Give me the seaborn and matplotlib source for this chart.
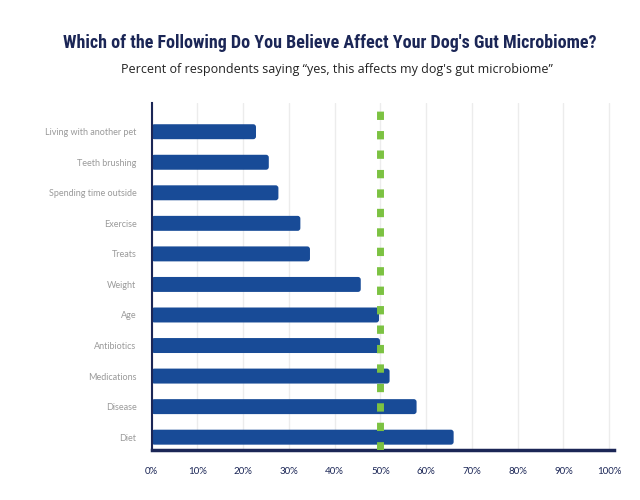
import numpy as np
import pandas as pd
import matplotlib
matplotlib.use("Agg")
import matplotlib.pyplot as plt
from matplotlib.patches import FancyBboxPatch
import seaborn as sns

# data (labels are blurred in the source, best guess)
factors = ["Living with another pet", "Teeth brushing", "Spending time outside",
           "Exercise", "Treats", "Weight", "Age", "Antibiotics",
           "Medications", "Disease", "Diet"]
pct_yes = [22.8, 25.6, 27.7, 32.5, 34.6, 45.7, 49.7, 49.9, 52.0, 57.9, 66.0]
x_ticks = [0, 10, 20, 30, 40, 50, 60, 70, 80, 90, 100]
x_tick_labels = [f"{t}%" for t in x_ticks]
reference_line = 50

df = pd.DataFrame({"factor": factors, "pct": pct_yes})

sns.set_style("white")
plt.rcParams["font.family"] = ["Lato", "DejaVu Sans"]

navy = "#1b2656"
bar_blue = "#184b97"
green = "#7cc242"

fig = plt.figure(figsize=(6.4, 5), dpi=100)
ax = fig.add_axes([0.237, 0.10, 0.722, 0.694])

sns.barplot(data=df, x="pct", y="factor", orient="h", color=bar_blue,
            saturation=1, width=0.49, ax=ax, zorder=2)

# rounded bar ends like the original
for bar in list(ax.patches):
    x, y = bar.get_x(), bar.get_y()
    w, h = bar.get_width(), bar.get_height()
    rb = FancyBboxPatch((x, y), w, h, boxstyle="round,pad=0,rounding_size=0.6",
                        mutation_aspect=0.15, facecolor=bar_blue,
                        edgecolor="none", zorder=2)
    bar.remove()
    ax.add_patch(rb)

ax.axvline(reference_line, color=green, linewidth=5, linestyle=(0, (1.2, 1.6)),
           zorder=3)

ax.set_xlim(0, 101)
ax.set_ylim(10.42, -0.94)
ax.set_xticks(x_ticks)
ax.set_xticklabels(x_tick_labels, fontsize=7, color=navy)
ax.tick_params(axis="x", length=0, pad=12)
ax.tick_params(axis="y", length=0, pad=11, labelsize=6.5, labelcolor="#9a9a9a")
ax.grid(axis="x", color="#ececec", linewidth=1, zorder=0)
ax.set_axisbelow(True)
ax.set_xlabel("")
ax.set_ylabel("")

for side in ["top", "right"]:
    ax.spines[side].set_visible(False)
ax.spines["left"].set_color(navy)
ax.spines["left"].set_linewidth(1.5)
ax.spines["bottom"].set_color(navy)
ax.spines["bottom"].set_linewidth(2.5)

fig.text(0.515, 0.915, "Which of the Following Do You Believe Affect Your Dog's Gut Microbiome?",
         ha="center", va="center", fontsize=13, fontweight="bold", color=navy,
         family=["Roboto Condensed", "DejaVu Sans"])
fig.text(0.527, 0.86, "Percent of respondents saying \u201cyes, this affects my dog's gut microbiome\u201d",
         ha="center", va="center", fontsize=9, color="#222222",
         family=["Open Sans", "DejaVu Sans"])

plt.savefig("out.png", dpi=100)
